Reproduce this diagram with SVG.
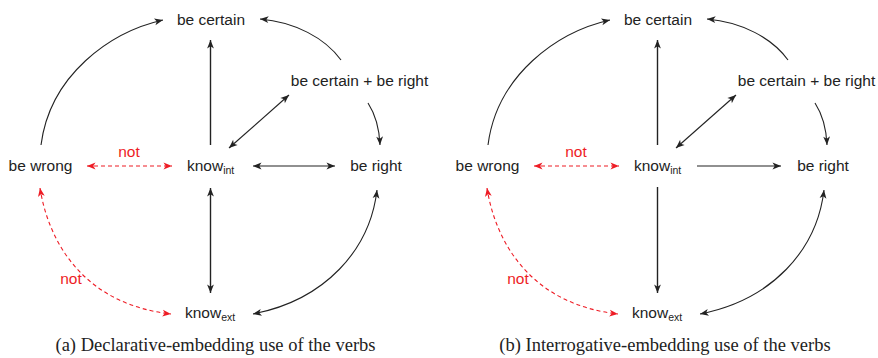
<svg xmlns="http://www.w3.org/2000/svg" width="878" height="358" viewBox="0 0 878 358">
<style>
.lbl{font-family:"Liberation Sans",Arial,sans-serif;font-size:15.5px;fill:#222}
.sub{font-size:10.5px}
.red{font-family:"Liberation Sans",Arial,sans-serif;font-size:15.5px;fill:#ee1c25}
.cap{font-family:"Liberation Serif","Times New Roman",serif;font-size:18.5px;fill:#222}
.e{fill:none;stroke:#222;stroke-width:1.1}
.ev{fill:none;stroke:#222;stroke-width:1.4}
.er{fill:none;stroke:#ee1c25;stroke-width:1.1;stroke-dasharray:4 3}
</style>
<defs>
<marker id="ah" viewBox="-9 -4 10 8" refX="0" refY="0" markerWidth="10" markerHeight="8" markerUnits="userSpaceOnUse" orient="auto-start-reverse">
<path d="M0,0 L-8.5,-3.4 L-6.3,0 L-8.5,3.4 Z" fill="#222"/>
</marker>
<marker id="ahr" viewBox="-9 -4 10 8" refX="0" refY="0" markerWidth="10" markerHeight="8" markerUnits="userSpaceOnUse" orient="auto-start-reverse">
<path d="M0,0 L-8.5,-3.4 L-6.3,0 L-8.5,3.4 Z" fill="#ee1c25"/>
</marker>
</defs>

<g id="diagram-a">
<g id="a-connectors">
<path class="ev" d="M210.5,145 L210.5,40" marker-end="url(#ah)"/>
<path class="e" d="M41,145 C50,75 110,32 163,20" marker-end="url(#ah)"/>
<path class="e" d="M341,60 C325,38 295,22 260,19" marker-end="url(#ah)"/>
<path class="e" d="M368,103 Q379,120 380,145" marker-end="url(#ah)"/>
<path class="e" d="M229,148 L289,95" marker-start="url(#ah)" marker-end="url(#ah)"/>
<path class="e" d="M253,166 L335,166" marker-start="url(#ah)" marker-end="url(#ah)"/>
<path class="er" d="M87,166 L172,166" marker-start="url(#ahr)" marker-end="url(#ahr)"/>
<path class="ev" d="M210.5,188 L210.5,293" marker-start="url(#ah)" marker-end="url(#ah)"/>
<path class="e" d="M377,190 C370,250 325,300 253,314" marker-start="url(#ah)" marker-end="url(#ah)"/>
<path class="er" d="M40,188 C50,250 90,305 171,314" marker-start="url(#ahr)" marker-end="url(#ahr)"/>
<text class="red" x="129" y="157" text-anchor="middle">not</text>
<text class="red" x="71" y="284" text-anchor="middle">not</text>
</g>
<g id="a-be-certain"><text class="lbl" x="211" y="25" text-anchor="middle">be certain</text></g>
<g id="a-be-certain-be-right"><text class="lbl" x="359.5" y="86" text-anchor="middle">be certain + be right</text></g>
<g id="a-be-wrong"><text class="lbl" x="40.5" y="171" text-anchor="middle">be wrong</text></g>
<g id="a-know-int"><text class="lbl" x="187" y="171">know<tspan class="sub" dy="3">int</tspan></text></g>
<g id="a-be-right"><text class="lbl" x="376" y="171" text-anchor="middle">be right</text></g>
<g id="a-know-ext"><text class="lbl" x="185" y="318">know<tspan class="sub" dy="3">ext</tspan></text></g>
<text class="cap" x="215.5" y="351" text-anchor="middle">(a)  Declarative-embedding use of the verbs</text>
</g>

<g id="diagram-b" transform="translate(447,0)">
<g id="b-connectors">
<path class="ev" d="M210.5,145 L210.5,40" marker-end="url(#ah)"/>
<path class="e" d="M41,145 C50,75 110,32 163,20" marker-end="url(#ah)"/>
<path class="e" d="M341,60 C325,38 295,22 260,19" marker-end="url(#ah)"/>
<path class="e" d="M368,103 Q379,120 380,145" marker-end="url(#ah)"/>
<path class="e" d="M229,148 L289,95" marker-start="url(#ah)" marker-end="url(#ah)"/>
<path class="e" d="M250,166 L334,166" marker-end="url(#ah)"/>
<path class="er" d="M87,166 L172,166" marker-start="url(#ahr)" marker-end="url(#ahr)"/>
<path class="ev" d="M210.5,187 L210.5,293" marker-end="url(#ah)"/>
<path class="e" d="M377,190 C370,250 325,300 253,314" marker-start="url(#ah)" marker-end="url(#ah)"/>
<path class="er" d="M40,188 C50,250 90,305 171,314" marker-start="url(#ahr)" marker-end="url(#ahr)"/>
<text class="red" x="129" y="157" text-anchor="middle">not</text>
<text class="red" x="71" y="284" text-anchor="middle">not</text>
</g>
<g id="b-be-certain"><text class="lbl" x="211" y="25" text-anchor="middle">be certain</text></g>
<g id="b-be-certain-be-right"><text class="lbl" x="359.5" y="86" text-anchor="middle">be certain + be right</text></g>
<g id="b-be-wrong"><text class="lbl" x="40.5" y="171" text-anchor="middle">be wrong</text></g>
<g id="b-know-int"><text class="lbl" x="187" y="171">know<tspan class="sub" dy="3">int</tspan></text></g>
<g id="b-be-right"><text class="lbl" x="376" y="171" text-anchor="middle">be right</text></g>
<g id="b-know-ext"><text class="lbl" x="185" y="318">know<tspan class="sub" dy="3">ext</tspan></text></g>
<text class="cap" x="218" y="351" text-anchor="middle">(b)  Interrogative-embedding use of the verbs</text>
</g>
</svg>
